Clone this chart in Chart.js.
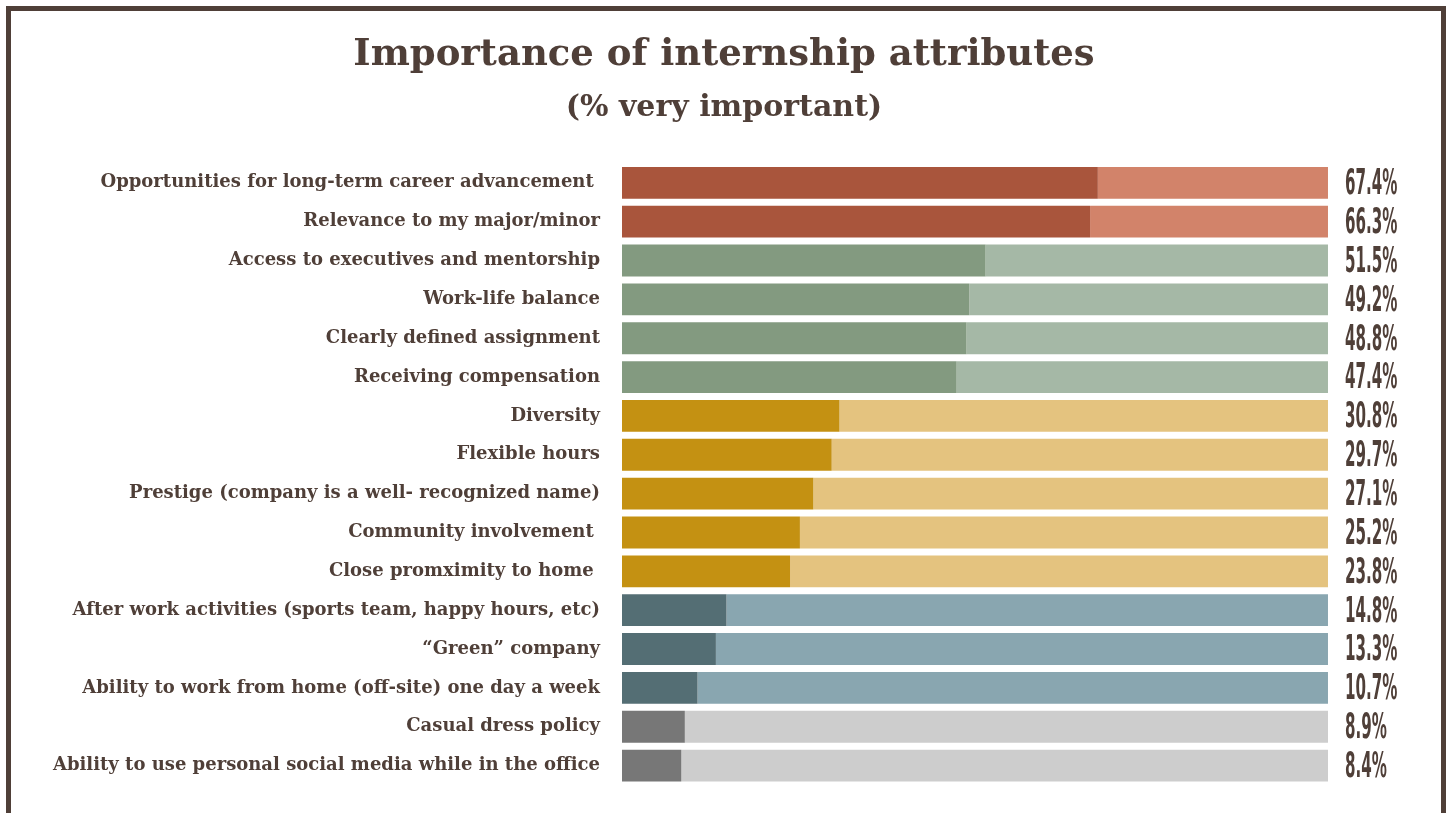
<!DOCTYPE html>
<html>
<head>
<meta charset="utf-8">
<script src="https://cdn.jsdelivr.net/npm/chart.js@4.4.1/dist/chart.umd.min.js"></script>
<style>
html,body{margin:0;padding:0;background:#fff;}
#wrap{position:relative;width:1448px;height:813px;}
#frame{position:absolute;left:6px;top:6px;width:1440px;height:807px;border:5px solid #4f3f38;border-bottom:none;box-sizing:border-box;}
canvas{position:absolute;left:0;top:0;}
</style>
</head>
<body>
<div id="wrap">
<div id="frame"></div>
<canvas id="chart" width="1448" height="813"></canvas>
</div>
<script>
const TEXT="#4f3f38"

const attributes=[
"Opportunities for long-term career advancement ",
"Relevance to my major/minor",
"Access to executives and mentorship",
"Work-life balance",
"Clearly defined assignment",
"Receiving compensation",
"Diversity",
"Flexible hours",
"Prestige (company is a well- recognized name)",
"Community involvement ",
"Close promximity to home ",
"After work activities (sports team, happy hours, etc)",
"\u201cGreen\u201d company",
"Ability to work from home (off-site) one day a week",
"Casual dress policy",
"Ability to use personal social media while in the office"
]
const veryImportant=[67.4,66.3,51.5,49.2,48.8,47.4,30.8,29.7,27.1,25.2,23.8,14.8,13.3,10.7,8.9,8.4]
// which colour band each row belongs to
const band=[0,0,1,1,1,1,2,2,2,2,2,3,3,3,4,4]
const darkColors=["#a9553c","#839a80","#c49112","#546e74","#777777"]
const lightColors=["#d2836a","#a5b8a6","#e4c37f","#89a6b0","#cdcdcd"]

const rest=veryImportant.map(v=>+(100-v).toFixed(1))

// percentage labels to the right of each bar, drawn narrow
const valueLabels={
id:"valueLabels",
afterDatasetsDraw(chart){
const c=chart.ctx
const meta=chart.getDatasetMeta(0)
const x=chart.scales.x.getPixelForValue(100)+17
c.save()
c.fillStyle=TEXT
c.font="bold 36px 'DejaVu Sans'"
c.textBaseline="middle"
c.textAlign="left"
meta.data.forEach((bar,i)=>{
c.save()
c.translate(x,bar.y+2)
c.scale(0.42,1)
c.fillText(veryImportant[i].toFixed(1)+"%",0,0)
c.restore()
})
c.restore()
}
}

new Chart(document.getElementById("chart"),{
type:"bar",
data:{
labels:attributes,
datasets:[{
data:veryImportant,
backgroundColor:band.map(b=>darkColors[b]),
barPercentage:0.82,
categoryPercentage:1
},{
data:rest,
backgroundColor:band.map(b=>lightColors[b]),
barPercentage:0.82,
categoryPercentage:1
}]
},
options:{
indexAxis:"y",
responsive:false,
animation:false,
layout:{padding:{left:0,right:0,top:0,bottom:28}},
plugins:{
legend:{display:false},
tooltip:{enabled:false},
title:{
display:true,
text:"Importance of internship attributes",
color:TEXT,
font:{family:"'DejaVu Serif'",size:37,weight:"bold"},
padding:{top:33,bottom:2}
},
subtitle:{
display:true,
text:"(% very important)",
color:TEXT,
font:{family:"'DejaVu Serif'",size:30,weight:"bold"},
padding:{top:11,bottom:37}
}
},
scales:{
// room past 100% holds the percentage labels
x:{stacked:true,min:0,max:117,display:false},
y:{
stacked:true,
grid:{display:false},
border:{display:false},
ticks:{
color:TEXT,
padding:14,
font:{family:"'DejaVu Serif'",size:18,weight:"bold"}
},
afterFit(scale){scale.width=622}
}
}
},
plugins:[valueLabels]
})
</script>
</body>
</html>
